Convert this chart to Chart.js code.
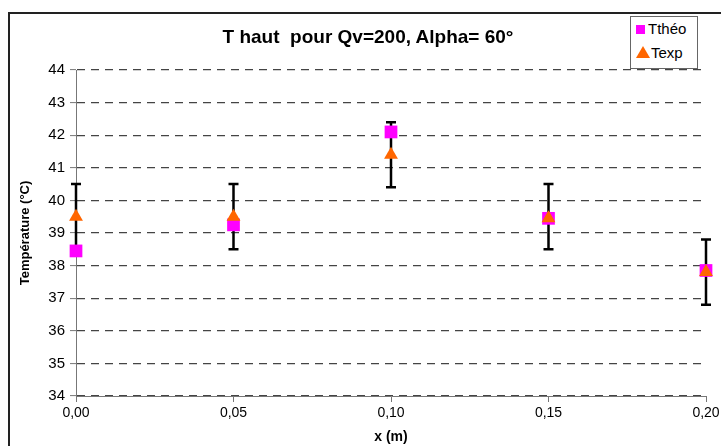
<!DOCTYPE html>
<html>
<head>
<meta charset="utf-8">
<script src="https://cdn.jsdelivr.net/npm/chart.js@4"></script>
<style>
  body { margin: 0; background: #fff; font-family: "Liberation Sans", Arial, sans-serif; }
  #wrap { position: relative; width: 721px; height: 446px; overflow: hidden; }
  #frame { position: absolute; left: 8px; top: 12px; width: 760px; height: 500px;
           border-left: 2px solid #222; border-top: 2px solid #222; }
  #title { position: absolute; left: 0; width: 736px; top: 26px; text-align: center;
           font-weight: bold; font-size: 19px; color: #000; white-space: pre; }
  #legend { position: absolute; left: 630px; top: 16px; width: 66px; height: 51px;
            border: 1px solid #666; background: #fff; font-size: 15px; }
  .item { position: absolute; left: 5px; white-space: nowrap; }
  .sq { display: inline-block; width: 9px; height: 9px; background: #ff00ff; margin-right: 3px; }
  .tri { display: inline-block; width: 0; height: 0; border-left: 7px solid transparent;
         border-right: 7px solid transparent; border-bottom: 12px solid #ff6600; margin-right: 1px; }
  canvas { position: absolute; left: 0; top: 0; }
</style>
</head>
<body>
<div id="wrap">
  <div id="frame"></div>
  <canvas id="chart" width="721" height="446"></canvas>
  <div id="title">T haut  pour Qv=200, Alpha= 60°</div>
  <div id="legend">
    <div class="item" style="top:3px;"><span class="sq"></span>Tthéo</div>
    <div class="item" style="top:27px;"><span class="tri"></span>Texp</div>
  </div>
</div>
<script>
/* ---- data ---- */
const xPos   = [0.00, 0.05, 0.10, 0.15, 0.20];
const tTheo  = [38.45, 39.25, 42.1, 39.45, 37.85];
const tExp   = [39.5, 39.5, 41.4, 39.45, 37.8];
const errLow = [38.5, 38.5, 40.4, 38.5, 36.8];
const errHigh= [40.5, 40.5, 42.4, 40.5, 38.8];
const yTicks = [34, 35, 36, 37, 38, 39, 40, 41, 42, 43, 44];

const FONT = "'Liberation Sans', Arial, sans-serif";

// error bars, drawn under the markers
const errorBars = {
    id: "errorBars",
    beforeDatasetsDraw(chart) {
        const ctx = chart.ctx;
        const xs = chart.scales.x, ys = chart.scales.y;
        ctx.save();
        ctx.strokeStyle = "#000";
        ctx.lineWidth = 2.5;
        xPos.forEach((x, i) => {
            const px = xs.getPixelForValue(x);
            const y1 = ys.getPixelForValue(errLow[i]);
            const y2 = ys.getPixelForValue(errHigh[i]);
            ctx.beginPath();
            ctx.moveTo(px, y1); ctx.lineTo(px, y2);
            ctx.moveTo(px - 5, y1); ctx.lineTo(px + 5, y1);
            ctx.moveTo(px - 5, y2); ctx.lineTo(px + 5, y2);
            ctx.stroke();
        });
        ctx.restore();
    }
};

// vertical axis title, placed by hand so the axis width stays fixed
const yTitle = {
    id: "yTitle",
    afterDraw(chart) {
        const ctx = chart.ctx;
        const area = chart.chartArea;
        ctx.save();
        ctx.translate(25, (area.top + area.bottom) / 2);
        ctx.rotate(-Math.PI / 2);
        ctx.font = "bold 13px " + FONT;
        ctx.fillStyle = "#000";
        ctx.textAlign = "center";
        ctx.textBaseline = "middle";
        ctx.fillText("Température (°C)", 0, 0);
        ctx.restore();
    }
};

new Chart(document.getElementById("chart"), {
    type: "scatter",
    data: {
        datasets: [
            {
                label: "Tthéo",
                data: xPos.map((x, i) => ({ x, y: tTheo[i] })),
                pointStyle: "rect",
                pointRadius: 9,
                backgroundColor: "#ff00ff",
                borderColor: "#ff00ff",
                borderWidth: 0,
                order: 2
            },
            {
                label: "Texp",
                data: xPos.map((x, i) => ({ x, y: tExp[i] })),
                pointStyle: "triangle",
                pointRadius: 8,
                backgroundColor: "#ff6600",
                borderColor: "#ff6600",
                borderWidth: 0,
                order: 1
            }
        ]
    },
    options: {
        responsive: false,
        animation: false,
        clip: false,
        layout: { padding: { left: 0, right: 15, top: 70, bottom: 0 } },
        plugins: {
            legend: { display: false },
            title: { display: false },
            tooltip: { enabled: false }
        },
        scales: {
            x: {
                type: "linear",
                min: 0, max: 0.2,
                afterFit: s => { s.height = 50; s.paddingRight = 0; s.paddingLeft = 0; },
                afterBuildTicks: s => { s.ticks = xPos.map(v => ({ value: v })); },
                ticks: {
                    color: "#000",
                    font: { family: FONT, size: 14 },
                    padding: 3,
                    maxRotation: 0,
                    callback: v => v.toFixed(2).replace(".", ",")
                },
                grid: { drawOnChartArea: false, drawTicks: true, tickLength: 6, tickColor: "#777", tickWidth: 1 },
                border: { color: "#777", width: 1 },
                title: { display: true, text: "x (m)", color: "#000",
                         font: { family: FONT, size: 14, weight: "bold" }, padding: { top: 0, bottom: 0 } }
            },
            y: {
                min: 34, max: 44,
                afterFit: s => { s.width = 76; },
                afterBuildTicks: s => { s.ticks = yTicks.map(v => ({ value: v })); },
                ticks: {
                    color: "#000",
                    font: { family: FONT, size: 15 },
                    padding: 5
                },
                grid: { color: "#444", lineWidth: 1.2, tickLength: 6, tickColor: "#777",
                        tickWidth: 1, tickBorderDash: [] },
                border: { color: "#777", width: 1, dash: [8, 6] }
            }
        }
    },
    plugins: [errorBars, yTitle]
});
</script>
</body>
</html>
